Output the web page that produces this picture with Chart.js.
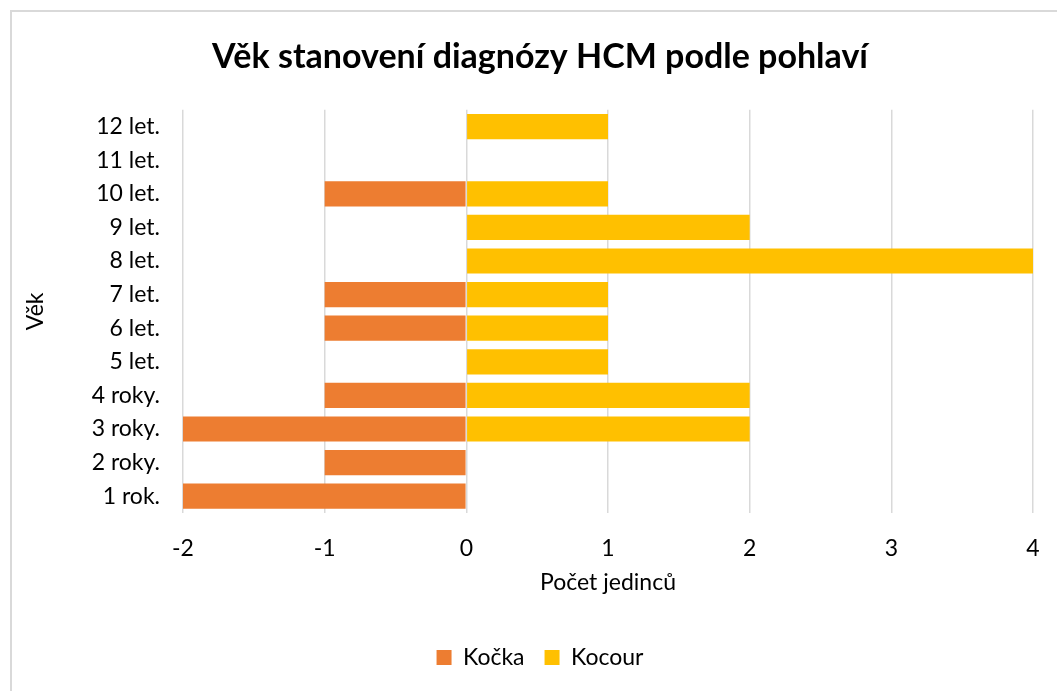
<!DOCTYPE html>
<html>
<head>
<meta charset="utf-8">
<script src="https://cdn.jsdelivr.net/npm/chart.js@4"></script>
<style>
  html, body { margin: 0; padding: 0; background: #fff; overflow: hidden; }
  #frame {
    position: absolute; left: 10px; top: 10px;
    width: 1060px; height: 690px;
    border-left: 2px solid #d9d9d9; border-top: 2px solid #d9d9d9;
    background: #fff;
  }
  #wrap { position: absolute; left: 0; top: 0; width: 1056px; height: 679px; }
</style>
</head>
<body>
<div id="frame"><div id="wrap"><canvas id="barChart"></canvas></div></div>
<script>
// age groups, bottom to top
const ages = ['1 rok.', '2 roky.', '3 roky.', '4 roky.', '5 let.', '6 let.', '7 let.', '8 let.', '9 let.', '10 let.', '11 let.', '12 let.'];
const kocka = [-2, -1, -2, -1, 0, -1, -1, 0, 0, -1, 0, 0];
const kocour = [0, 0, 2, 2, 1, 1, 1, 4, 2, 1, 0, 1];
const xTicks = [-2, -1, 0, 1, 2, 3, 4];

const font = "Lato, 'Noto Sans', sans-serif";

const ctx = document.getElementById('barChart').getContext('2d');

const myChart = new Chart(ctx, {
    type: 'bar',
    data: {
        labels: ages,
        datasets: [{
            label: 'Kočka',
            data: kocka,
            backgroundColor: '#ED7D31',
            borderWidth: 0,
            barPercentage: 0.75,
            categoryPercentage: 1
        }, {
            label: 'Kocour',
            data: kocour,
            backgroundColor: '#FFC000',
            borderWidth: 0,
            barPercentage: 0.75,
            categoryPercentage: 1
        }]
    },
    options: {
        indexAxis: 'y',
        responsive: true,
        maintainAspectRatio: false,
        animation: false,
        // symmetric side padding keeps title and legend centred on the frame
        layout: { padding: { left: 35, right: 35, top: 0, bottom: 12 } },
        plugins: {
            title: {
                display: true,
                text: 'Věk stanovení diagnózy HCM podle pohlaví',
                color: '#000',
                font: { family: font, size: 34, weight: 'bold' },
                padding: { top: 25, bottom: 32 }
            },
            legend: {
                position: 'bottom',
                labels: {
                    color: '#000',
                    font: { family: font, size: 23 },
                    boxWidth: 15,
                    boxHeight: 15,
                    padding: 20
                }
            },
            tooltip: { enabled: false }
        },
        scales: {
            x: {
                stacked: true,
                min: xTicks[0],
                max: xTicks[xTicks.length - 1],
                afterBuildTicks: (axis) => { axis.ticks = xTicks.map(v => ({ value: v })); },
                grid: { color: '#d9d9d9', lineWidth: 1.5, drawTicks: false },
                border: { display: false },
                ticks: { color: '#000', font: { family: font, size: 23 }, padding: 22 },
                title: {
                    display: true,
                    text: 'Počet jedinců',
                    color: '#000',
                    font: { family: font, size: 23 },
                    padding: { top: 0, bottom: 30 }
                },
                afterFit: (scale) => { scale.height = 113; }
            },
            y: {
                stacked: true,
                reverse: true,
                grid: { display: false },
                border: { display: false },
                ticks: { color: '#000', font: { family: font, size: 23 }, padding: 15 },
                title: {
                    display: true,
                    text: 'Věk',
                    color: '#000',
                    font: { family: font, size: 23 },
                    padding: { top: -25, bottom: 0 }
                },
                afterFit: (scale) => { scale.width = 136; }
            }
        }
    }
});
</script>
</body>
</html>
